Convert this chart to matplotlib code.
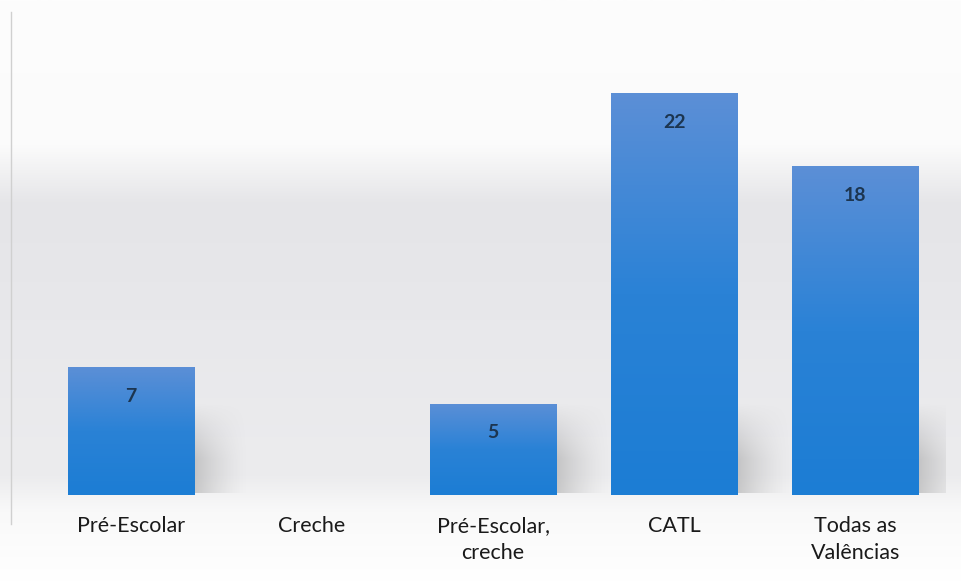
import numpy as np
import matplotlib.pyplot as plt
from matplotlib.colors import LinearSegmentedColormap

categories = ['Pré-Escolar', 'Creche', 'Pré-Escolar,\ncreche', 'CATL', 'Todas as\nValências']
values = [7, 0, 5, 22, 18]

plt.rcParams['font.family'] = ['Lato', 'DejaVu Sans']

fig = plt.figure(figsize=(9.62, 5.82), dpi=100)

# page-like background: white top, grey band, fading to white at the bottom
bg = fig.add_axes([0, 0, 1, 1], zorder=0)
bg_cmap = LinearSegmentedColormap.from_list(
    'bg', [(0.0, '#fdfdfd'), (0.25, '#fbfbfb'), (0.35, '#e5e5e8'),
           (0.55, '#e8e8eb'), (0.82, '#ececee'), (0.88, '#f9f9f9'), (1.0, '#ffffff')])
grad = np.linspace(0, 1, 256).reshape(-1, 1)
bg.imshow(grad, aspect='auto', cmap=bg_cmap, extent=(0, 1, 1, 0))
bg.plot([0.011, 0.011], [0.02, 0.9], color='#d0d0d0', lw=1)
bg.set_xlim(0, 1)
bg.set_ylim(1, 0)
bg.axis('off')

ax = fig.add_axes([0.0421, 0.1495, 0.941, 0.8161], zorder=1)
ax.patch.set_alpha(0)
x = np.arange(len(categories))
width = 0.70
bars = ax.bar(x, values, width=width, color='none', edgecolor='none')

bar_cmap = LinearSegmentedColormap.from_list('bar', ['#1c7dd4', '#2a82d6', '#5b8fd6'])

# soft shadow image: fades to the right and toward the top
sx = np.linspace(0, 1, 60)
sy = np.linspace(0, 1, 60)
SX, SY = np.meshgrid(sx, sy)
shadow_alpha = 0.45 * (1 - SX) ** 1.5 * np.clip((1 - SY) * 1.6, 0, 1)
shadow = np.zeros((60, 60, 4))
shadow[..., :3] = 0.55
shadow[..., 3] = shadow_alpha

for rect, v in zip(bars, values):
    if v == 0:
        continue
    x0 = rect.get_x()
    sh = min(v, 5.0)
    ax.imshow(shadow, origin='lower', aspect='auto',
              extent=(x0 + width - 0.02, x0 + width + 0.3, 0.1, sh), zorder=1)
    img = ax.imshow(np.linspace(0, 1, 100).reshape(-1, 1), cmap=bar_cmap, origin='lower',
                    aspect='auto', extent=(x0, x0 + width, 0, v), zorder=2)
    img.set_clip_path(rect)
    rect.set_zorder(2)
    ax.text(rect.get_x() + width / 2, v - 1.6, str(v), ha='center', va='center',
            fontsize=14, fontweight='bold', color='#1c3550', zorder=3)

ax.set_xlim(-0.5, len(categories) - 0.5)
ax.set_ylim(0, 26.0)
ax.set_xticks(x)
ax.set_xticklabels(categories, fontsize=15.5, color='#1a1a1a', linespacing=1.45, va='top')
ax.tick_params(axis='x', length=0, pad=15)
ax.set_yticks([])
for s in ax.spines.values():
    s.set_visible(False)

fig.savefig('out.png', dpi=100)
